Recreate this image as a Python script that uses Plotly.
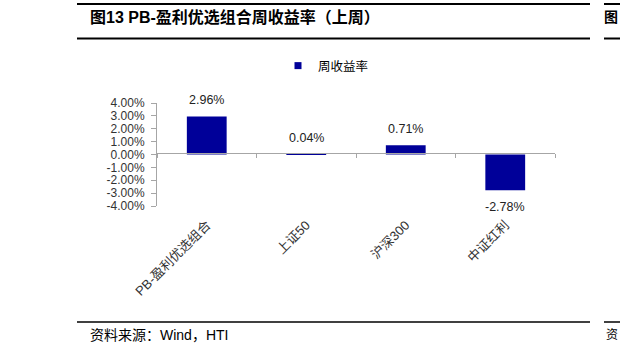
import plotly.graph_objects as go

categories = ["PB-盈利优选组合", "上证50", "沪深300", "中证红利"]
weekly_return = [2.96, 0.04, 0.71, -2.78]
series_name = "周收益率"
y_ticks = [4, 3, 2, 1, 0, -1, -2, -3, -4]
title_text = "图13 PB-盈利优选组合周收益率（上周）"
source_text = "资料来源：Wind，HTI"

W, H = 620, 354
L, R, T, B = 157, 555, 103, 206
BAR = "#000099"
AX = "#a6a6a6"
CJK = "Liberation Sans, Noto Sans CJK SC, sans-serif"
NUM = "Liberation Sans, Arial, sans-serif"

def px(x):
    return (x - L) / (R - L)

def py(y):
    return (B - y) / (B - T)

fig = go.Figure()
fig.add_trace(go.Bar(
    x=categories, y=weekly_return, name=series_name,
    marker=dict(color=BAR, line=dict(width=0)), width=0.4,
    showlegend=False, hoverinfo="x+y",
))
# legend entry with a small square swatch like the reference
fig.add_trace(go.Scatter(
    x=[None], y=[None], mode="markers", name=series_name,
    marker=dict(symbol="square", size=7, color=BAR), showlegend=True,
))
# helper trace for the zero-line axis
fig.add_trace(go.Scatter(x=[-0.5, 3.5], y=[0, 0], xaxis="x2", mode="lines",
                         line=dict(width=0), showlegend=False, hoverinfo="skip"))

annotations = []
for c, v in zip(categories, weekly_return):
    annotations.append(dict(
        x=c, y=v, xref="x", yref="y", text=f"{v:.2f}%", showarrow=False,
        yshift=16 if v >= 0 else -17,
        font=dict(size=12.5, color="#222222", family=NUM),
    ))
annotations.append(dict(x=px(88), y=py(17), xref="paper", yref="paper",
                        text="<b>" + title_text + "</b>", showarrow=False,
                        xanchor="left", yanchor="middle",
                        font=dict(size=16, color="#000000", family=CJK)))
annotations.append(dict(x=px(620), y=py(17), xref="paper", yref="paper",
                        text="<b>图</b>", showarrow=False,
                        xanchor="right", yanchor="middle",
                        font=dict(size=14, color="#000000", family=CJK)))
annotations.append(dict(x=px(88), y=py(335), xref="paper", yref="paper",
                        text=source_text, showarrow=False,
                        xanchor="left", yanchor="middle",
                        font=dict(size=14, color="#000000", family=CJK)))
annotations.append(dict(x=px(620), y=py(335), xref="paper", yref="paper",
                        text="资", showarrow=False,
                        xanchor="right", yanchor="middle",
                        font=dict(size=12, color="#000000", family=CJK)))

shapes = []
for (x0, x1) in [(77, 590), (604, 625)]:
    for yy, wd in [(4, 2), (38.5, 2), (322, 1.5)]:
        shapes.append(dict(type="line", xref="paper", yref="paper",
                           x0=px(x0), x1=px(x1), y0=py(yy), y1=py(yy),
                           line=dict(color="#000000", width=wd)))

fig.update_layout(
    width=W, height=H,
    margin=dict(l=L, r=W - R, t=T, b=H - B, pad=0),
    paper_bgcolor="white", plot_bgcolor="white",
    showlegend=True,
    legend=dict(orientation="h", x=px(278), y=py(66), xanchor="left", yanchor="middle",
                font=dict(size=12.5, color="#000000", family=CJK),
                bgcolor="rgba(0,0,0,0)"),
    xaxis=dict(type="category", range=[-0.5, 3.5], showline=False, ticks="",
               tickangle=-45, showgrid=False, zeroline=False, ticklabelstandoff=8,
               tickfont=dict(size=13, color="#333333", family=CJK)),
    xaxis2=dict(type="linear", overlaying="x", anchor="free", position=py(153),
                range=[-0.5, 3.5], showline=True, linecolor=AX, linewidth=1,
                ticks="outside", ticklen=4, tickcolor=AX,
                tickvals=[-0.5, 0.5, 1.5, 2.5, 3.5],
                showticklabels=False, showgrid=False, zeroline=False, side="bottom"),
    yaxis=dict(range=[-4, 4], tickvals=y_ticks, ticktext=[f"{v:.2f}%" for v in y_ticks],
               showline=True, linecolor=AX, linewidth=1, ticks="outside", ticklen=5,
               tickcolor=AX, showgrid=False, zeroline=False, ticklabelstandoff=4,
               tickfont=dict(size=12, color="#333333", family=NUM)),
    annotations=annotations, shapes=shapes,
)

fig.write_html("out.html")
